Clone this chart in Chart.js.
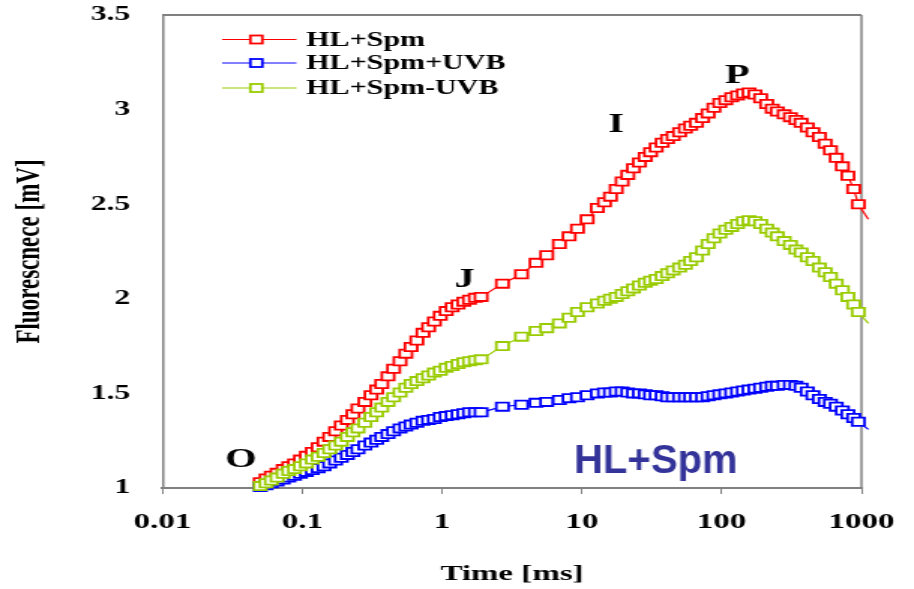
<!DOCTYPE html>
<html>
<head>
<meta charset="utf-8">
<script src="https://cdn.jsdelivr.net/npm/chart.js@4.4.1/dist/chart.umd.min.js"></script>
<style>
  html, body { margin: 0; padding: 0; background: #fff; overflow: hidden; }
  /* the reference figure is stretched sideways, so the chart is drawn narrow and widened */
  #wrap { width: 609px; height: 589px; transform: scaleX(1.5008); transform-origin: 0 0; }
</style>
</head>
<body>
<div id="wrap"><canvas id="chart"></canvas></div>
<script>
const STRETCH = 914 / 609;

// time axis (ms)
const times = [
  0.05, 0.055, 0.06, 0.066, 0.073, 0.08, 0.088, 0.097, 0.107, 0.118,
  0.13, 0.143, 0.157, 0.173, 0.19, 0.21, 0.23, 0.25, 0.28, 0.31,
  0.34, 0.37, 0.41, 0.45, 0.5, 0.55, 0.6, 0.66, 0.73, 0.8,
  0.88, 0.97, 1.07, 1.18, 1.3, 1.43, 1.57, 1.73, 1.9,
  2.7, 3.7, 4.7, 5.6, 6.9, 8.1, 9.3, 10.9, 12.9,
  14.5, 16, 17.6, 19.4, 21.3, 23.4, 25.8, 28.4, 31, 34,
  37.5, 41, 45, 50, 55, 60, 66, 73, 80, 88,
  97, 107, 118, 130, 143, 157, 173, 190, 210, 230,
  250, 280, 310, 340, 370, 410, 450, 500, 550, 600,
  660, 730, 800, 880, 950, 1120
];

// fluorescence (mV)
const hlSpm = [
  1.03, 1.05, 1.065, 1.08, 1.10, 1.115, 1.13, 1.15, 1.17, 1.19,
  1.215, 1.245, 1.27, 1.30, 1.33, 1.36, 1.39, 1.42, 1.455, 1.49,
  1.52, 1.55, 1.59, 1.63, 1.67, 1.71, 1.745, 1.78, 1.82, 1.85,
  1.88, 1.91, 1.935, 1.955, 1.97, 1.985, 1.995, 2.005, 2.01,
  2.08, 2.13, 2.19, 2.23, 2.29, 2.33, 2.37, 2.42, 2.48,
  2.51, 2.54, 2.58, 2.62, 2.655, 2.69, 2.72, 2.75, 2.775, 2.80,
  2.825, 2.845, 2.86, 2.88, 2.90, 2.915, 2.93, 2.955, 2.98, 3.01,
  3.035, 3.05, 3.065, 3.075, 3.085, 3.09, 3.08, 3.06, 3.03, 3.005,
  2.99, 2.975, 2.96, 2.945, 2.93, 2.905, 2.88, 2.855, 2.82, 2.785,
  2.745, 2.70, 2.65, 2.58, 2.50, 2.42
];

const hlSpmPlusUvb = [
  1.005, 1.015, 1.025, 1.035, 1.045, 1.055, 1.065, 1.075, 1.085, 1.095,
  1.105, 1.115, 1.13, 1.145, 1.16, 1.175, 1.19, 1.205, 1.225, 1.24,
  1.255, 1.27, 1.285, 1.30, 1.315, 1.325, 1.335, 1.345, 1.355, 1.36,
  1.365, 1.375, 1.38, 1.385, 1.39, 1.395, 1.40, 1.40, 1.40,
  1.43, 1.44, 1.45, 1.455, 1.465, 1.475, 1.48, 1.49, 1.50,
  1.505, 1.505, 1.51, 1.51, 1.505, 1.50, 1.50, 1.495, 1.49, 1.49,
  1.485, 1.48, 1.48, 1.48, 1.48, 1.48, 1.48, 1.48, 1.485, 1.49,
  1.495, 1.50, 1.505, 1.51, 1.515, 1.52, 1.525, 1.53, 1.535, 1.54,
  1.54, 1.545, 1.545, 1.54, 1.53, 1.51, 1.49, 1.47, 1.455, 1.445,
  1.43, 1.41, 1.39, 1.37, 1.35, 1.31
];

const hlSpmMinusUvb = [
  1.01, 1.025, 1.04, 1.055, 1.075, 1.09, 1.10, 1.115, 1.13, 1.15,
  1.165, 1.185, 1.205, 1.225, 1.245, 1.27, 1.295, 1.315, 1.345, 1.375,
  1.40, 1.425, 1.455, 1.48, 1.505, 1.53, 1.55, 1.565, 1.58, 1.595,
  1.61, 1.62, 1.635, 1.645, 1.655, 1.665, 1.67, 1.675, 1.68,
  1.75, 1.80, 1.83, 1.845, 1.87, 1.90, 1.93, 1.955, 1.975,
  1.99, 2.00, 2.01, 2.025, 2.04, 2.055, 2.07, 2.085, 2.095, 2.105,
  2.12, 2.135, 2.15, 2.165, 2.18, 2.20, 2.22, 2.255, 2.29, 2.32,
  2.345, 2.365, 2.38, 2.395, 2.41, 2.415, 2.41, 2.395, 2.37, 2.35,
  2.33, 2.305, 2.285, 2.26, 2.245, 2.22, 2.20, 2.165, 2.14, 2.115,
  2.08, 2.045, 2.01, 1.97, 1.93, 1.87
];

const seriesNames = ["HL+Spm", "HL+Spm+UVB", "HL+Spm-UVB"];
const seriesColors = ["#ff0000", "#0000ff", "#99cc00"];

const xTicks = [0.01, 0.1, 1, 10, 100, 1000];
const xTickLabels = ["0.01", "0.1", "1", "10", "100", "1000"];
const yTicks = [1, 1.5, 2, 2.5, 3, 3.5];
const yTickLabels = ["1", "1.5", "2", "2.5", "3", "3.5"];

// OJIP step labels, placed in data units
const phaseLabels = ["O", "J", "I", "P"];
const phaseTimes = [0.0364, 1.45, 17.6, 129];
const phaseValues = [1.15, 2.10, 2.92, 3.18];

const serif = "'Liberation Serif', 'Times New Roman', serif";

function toPoints(values) {
  return values.map((v, i) => ({ x: times[i], y: v }));
}

function makeDataset(idx, values, order) {
  return {
    label: seriesNames[idx],
    data: toPoints(values),
    borderColor: seriesColors[idx],
    backgroundColor: "#ffffff",
    borderWidth: 1.2,
    pointStyle: "rect",
    pointRadius: (c) => (c.dataIndex === times.length - 1 ? 0 : 5.8),
    pointBorderWidth: 1.8,
    pointBorderColor: seriesColors[idx],
    pointBackgroundColor: "#ffffff",
    tension: 0,
    clip: false,
    order: order,
  };
}

// frame on top and right, legend and text labels
const extrasPlugin = {
  id: "extras",
  beforeDatasetsDraw(chart) {
    const { ctx, chartArea: a } = chart;
    ctx.save();
    ctx.strokeStyle = "#808080";
    ctx.lineWidth = 2;
    ctx.beginPath();
    ctx.moveTo(a.left, a.top);
    ctx.lineTo(a.right, a.top);
    ctx.stroke();
    ctx.lineWidth = 1.5;
    ctx.beginPath();
    ctx.moveTo(a.right, a.top);
    ctx.lineTo(a.right, a.bottom);
    ctx.stroke();
    ctx.restore();
  },
  afterDatasetsDraw(chart) {
    const { ctx } = chart;
    const xs = chart.scales.x;
    const ys = chart.scales.y;
    ctx.save();

    // legend
    const rows = [39.5, 63, 88];
    seriesNames.forEach((name, i) => {
      const y = rows[i];
      ctx.strokeStyle = seriesColors[i];
      ctx.lineWidth = 1.2;
      ctx.beginPath();
      ctx.moveTo(148, y);
      ctx.lineTo(197.5, y);
      ctx.stroke();
      ctx.fillStyle = "#ffffff";
      ctx.lineWidth = 1.8;
      ctx.fillRect(166.8, y - 4, 8, 8);
      ctx.strokeRect(166.8, y - 4, 8, 8);
      ctx.fillStyle = "#000000";
      ctx.font = "bold 20px " + serif;
      ctx.textAlign = "left";
      ctx.textBaseline = "middle";
      ctx.fillText(name, 204, y + 1);
    });

    // O J I P
    ctx.font = "bold 27px " + serif;
    ctx.textAlign = "center";
    ctx.textBaseline = "middle";
    ctx.fillStyle = "#000000";
    phaseLabels.forEach((t, i) => {
      ctx.fillText(t, xs.getPixelForValue(phaseTimes[i]), ys.getPixelForValue(phaseValues[i]));
    });

    // treatment label, drawn unstretched
    const px = xs.getPixelForValue(33.8) * STRETCH;
    const py = ys.getPixelForValue(1.08);
    ctx.scale(1 / STRETCH, 1);
    ctx.font = "bold 40px 'Liberation Sans', Arial, sans-serif";
    ctx.fillStyle = "#333399";
    ctx.textAlign = "center";
    ctx.textBaseline = "alphabetic";
    ctx.fillText("HL+Spm", px, py);
    ctx.restore();
  },
};

new Chart(document.getElementById("chart"), {
  type: "line",
  data: {
    datasets: [
      makeDataset(0, hlSpm, 2),
      makeDataset(1, hlSpmPlusUvb, 1),
      makeDataset(2, hlSpmMinusUvb, 0),
    ],
  },
  options: {
    responsive: true,
    maintainAspectRatio: false,
    animation: false,
    layout: { padding: { left: 0, right: 35, top: 15, bottom: 0 } },
    plugins: {
      legend: { display: false },
      tooltip: { enabled: false },
    },
    scales: {
      x: {
        type: "logarithmic",
        min: 0.01,
        max: 1000,
        afterBuildTicks: (s) => {
          s.ticks = xTicks.map((v) => ({ value: v }));
        },
        afterFit: (s) => {
          s.height = 101;
        },
        grid: {
          display: true,
          drawOnChartArea: false,
          drawTicks: true,
          tickLength: 6,
          color: "#808080",
          lineWidth: 1,
        },
        border: { display: true, color: "#808080", width: 2 },
        ticks: {
          autoSkip: false,
          maxRotation: 0,
          padding: 2,
          color: "#000000",
          font: { family: serif, size: 22, weight: "bold", lineHeight: 2.4 },
          callback: (v) => xTickLabels[xTicks.indexOf(v)],
        },
        title: {
          display: true,
          text: "Time [ms]",
          color: "#000000",
          font: { family: serif, size: 22, weight: "bold" },
          padding: { top: 0, bottom: 1 },
        },
      },
      y: {
        min: 1,
        max: 3.5,
        afterBuildTicks: (s) => {
          s.ticks = yTicks.map((v) => ({ value: v }));
        },
        afterFit: (s) => {
          s.width = 108.3;
        },
        grid: { display: false, drawTicks: true, tickLength: 21.5 },
        border: { display: true, color: "#808080", width: 1.5 },
        ticks: {
          padding: 0,
          color: "#000000",
          font: { family: serif, size: 21, weight: "bold" },
          callback: (v) => yTickLabels[yTicks.indexOf(v)],
        },
        title: {
          display: true,
          text: "Fluorescnece [mV]",
          color: "#000000",
          font: { family: serif, size: 23, weight: "bold" },
          padding: { top: 6, bottom: 0 },
        },
      },
    },
  },
  plugins: [extrasPlugin],
});
</script>
</body>
</html>
